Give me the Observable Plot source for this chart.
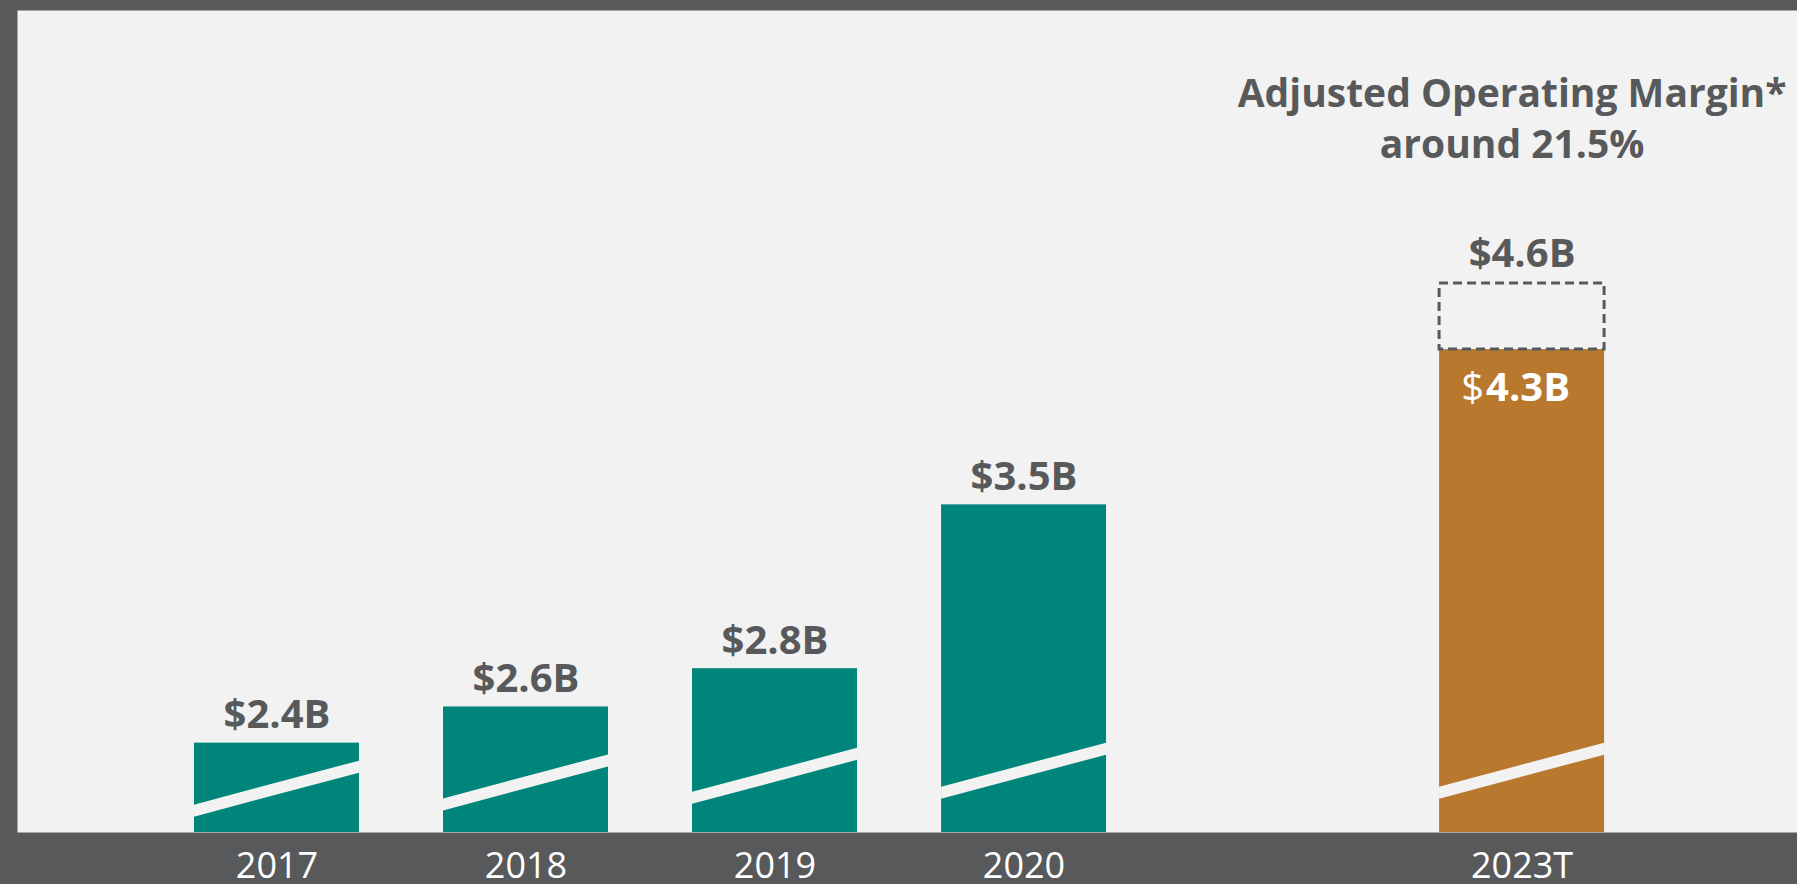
<!DOCTYPE html>
<html><head><meta charset="utf-8">
<script src="https://cdn.jsdelivr.net/npm/d3@7"></script>
<script src="https://cdn.jsdelivr.net/npm/@observablehq/plot@0.6"></script>
<style>html,body{margin:0;padding:0;background:#58595b;overflow:hidden}</style>
</head><body><div id="chart"></div>
<script>
// ---- data ----
const columns = ["2017", "2018", "2019", "2020", "", "2023T"]; // axis slots ("" = gap)
const years = ["2017", "2018", "2019", "2020", "2023T"];
const values = [2.42, 2.59, 2.77, 3.54, 4.27];            // bar heights
const valueLabels = ["$2.4B", "$2.6B", "$2.8B", "$3.5B", "$4.3B"];
const series = ["Actual", "Actual", "Actual", "Actual", "Target"];
const targetHigh = 4.58;
const targetHighLabel = "$4.6B";
const titleLines = ["Adjusted Operating Margin*", "around 21.5%"];

// ---- layout / style ----
const W = 1797, H = 884, mt = 10, mb = 52, ml = 17, mr = 0;
const base = 2, yTop = 5.8635;
const k = (H - mt - mb) / (yTop - base); // px per unit
const hw = 0.3313; // half bar width in slot units
const dark = "#58595b", panel = "#f2f2f2";

const rows = years.map((year, i) => ({
  year, slot: columns.indexOf(year), value: values[i], label: valueLabels[i], series: series[i]
}));
const actual = rows.filter(d => d.series === "Actual");
const target = rows.filter(d => d.series === "Target");

// axis-break stripes
const rise = 44 / k, thick = 12 / k;
const stripes = rows.flatMap(d => {
  const lo = base + Math.min(0.172 * (d.value - base), 33.3 / k);
  return [
    {year: d.year, x: d.slot - hw, y1: lo, y2: lo + thick},
    {year: d.year, x: d.slot + hw, y1: lo + rise, y2: lo + rise + thick}
  ];
});

const chart = Plot.plot({
  width: W, height: H,
  marginTop: mt, marginBottom: mb, marginLeft: ml, marginRight: mr,
  x: {domain: [-1.042, 6.106], axis: null},
  y: {domain: [base, yTop], axis: null},
  color: {domain: ["Actual", "Target"], range: ["#00857a", "#b8792f"]},
  style: {background: dark, fontFamily: "'Open Sans', sans-serif", color: dark},
  marks: [
    Plot.frame({fill: panel, stroke: "none"}),
    Plot.rectY(rows, {x1: d => d.slot - hw, x2: d => d.slot + hw, y1: base, y2: "value", fill: "series"}),
    Plot.areaY(stripes, {x: "x", y1: "y1", y2: "y2", z: "year", fill: panel}),
    Plot.rect(target, {x1: d => d.slot - hw, x2: d => d.slot + hw, y1: "value", y2: () => targetHigh,
      fill: "none", stroke: dark, strokeWidth: 3, strokeDasharray: "9,5"}),
    Plot.text(actual, {x: "slot", y: "value", text: "label", dy: -15, lineAnchor: "bottom",
      fontSize: 40, fontWeight: "bold", fill: dark}),
    Plot.text(target, {x: "slot", y: () => targetHigh, text: () => targetHighLabel, dy: -17, lineAnchor: "bottom",
      fontSize: 40, fontWeight: "bold", fill: dark}),
    Plot.text(target, {x: "slot", y: "value", text: d => d.label.slice(0, 1), dx: -38, dy: 51, textAnchor: "end",
      lineAnchor: "bottom", fontSize: 40, fill: "white"}),
    Plot.text(target, {x: "slot", y: "value", text: d => d.label.slice(1), dx: -36, dy: 51, textAnchor: "start",
      lineAnchor: "bottom", fontSize: 40, fontWeight: "bold", fill: "white"}),
    Plot.text(rows, {x: "slot", text: "year", frameAnchor: "bottom", dy: 45, lineAnchor: "bottom",
      fontSize: 36, fill: "white"}),
    Plot.text(target, {x: "slot", text: () => titleLines.join("\n"), frameAnchor: "top", dx: -10, dy: 147,
      lineAnchor: "bottom", lineHeight: 1.3, fontSize: 39, fontWeight: "bold", fill: dark})
  ]
});
document.getElementById("chart").append(chart);
</script>
</body></html>
